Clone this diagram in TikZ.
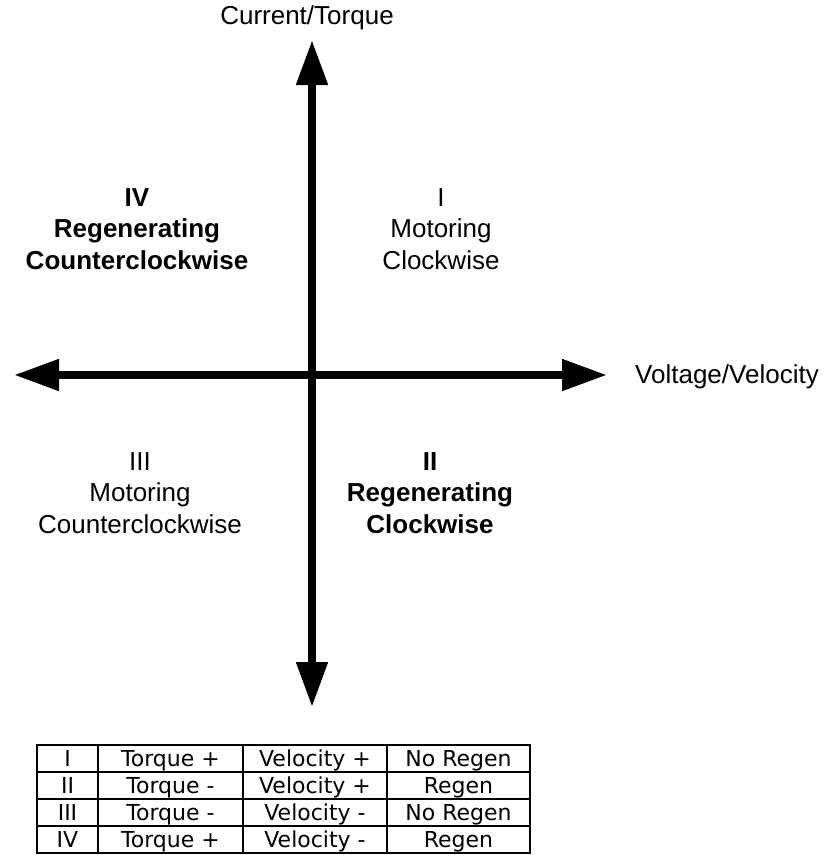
\documentclass[tikz,border=0pt]{standalone}
\usepackage{fontspec}
\setmainfont{Liberation Sans}
\newfontfamily\tablefont{DejaVu Sans}
\usepackage{tikz}
\usetikzlibrary{arrows.meta}
\tikzset{
	axis/.style = {line width=8pt, {Triangle[length=45pt, width=30pt]}-{Triangle[length=45pt, width=30pt]}},
	axislabel/.style = {inner sep=0pt, font=\fontsize{26}{31}\selectfont},
	quadrant/.style = {align=center, anchor=north, inner sep=0pt, font=\fontsize{26}{31.5}\selectfont},
	regen/.style = {quadrant, font=\fontsize{26}{31.5}\selectfont\bfseries},
	cell/.style = {anchor=base, inner sep=0pt, font=\tablefont\fontsize{22}{26}\selectfont},
	grid line/.style = {line width=1.5pt}
}

\begin{document}
\begin{tikzpicture}[x=1pt, y=-1pt]
		\useasboundingbox (0, 0) rectangle (830, 855);
		% axes
		\coordinate (neg velocity) at (14, 375);
		\coordinate (pos velocity) at (607, 375);
		\coordinate (neg torque) at (312, 707);
		\coordinate (pos torque) at (312, 40);
		\draw[axis] (neg velocity) -- (pos velocity);
		\draw[axis] (neg torque) -- (pos torque);
		\node[axislabel, anchor=base] (torque label) at (307, 24) {Current/Torque};
		\node[axislabel, anchor=base west] (velocity label) at (635, 383) {Voltage/Velocity};
		% quadrants
		\node[quadrant] (q1) at (441, 188) {I\\Motoring\\Clockwise};
		\node[regen] (q2) at (430, 452) {II\\Regenerating\\Clockwise};
		\node[quadrant] (q3) at (140, 452) {III\\Motoring\\Counterclockwise};
		\node[regen] (q4) at (137, 188) {IV\\Regenerating\\Counterclockwise};
		% table
		\draw[grid line] (37, 745) rectangle (530, 853);
		\foreach \y in {772, 799, 826}
			\draw[grid line] (37, \y) -- (530, \y);
		\foreach \x in {98, 243, 387}
			\draw[grid line] (\x, 745) -- (\x, 853);
		\foreach \r/\q/\t/\v/\g in {1/I/+/+/No Regen, 2/II/-/+/Regen, 3/III/-/-/No Regen, 4/IV/+/-/Regen}
		{
			\node[cell] (mode\r) at (67.5, {745 + 27*\r - 5.5}) {\q};
			\node[cell] (torque\r) at (170.5, {745 + 27*\r - 5.5}) {Torque \t};
			\node[cell] (velocity\r) at (315, {745 + 27*\r - 5.5}) {Velocity \v};
			\node[cell] (regen\r) at (458.5, {745 + 27*\r - 5.5}) {\g};
		}
	\end{tikzpicture}
\end{document}
